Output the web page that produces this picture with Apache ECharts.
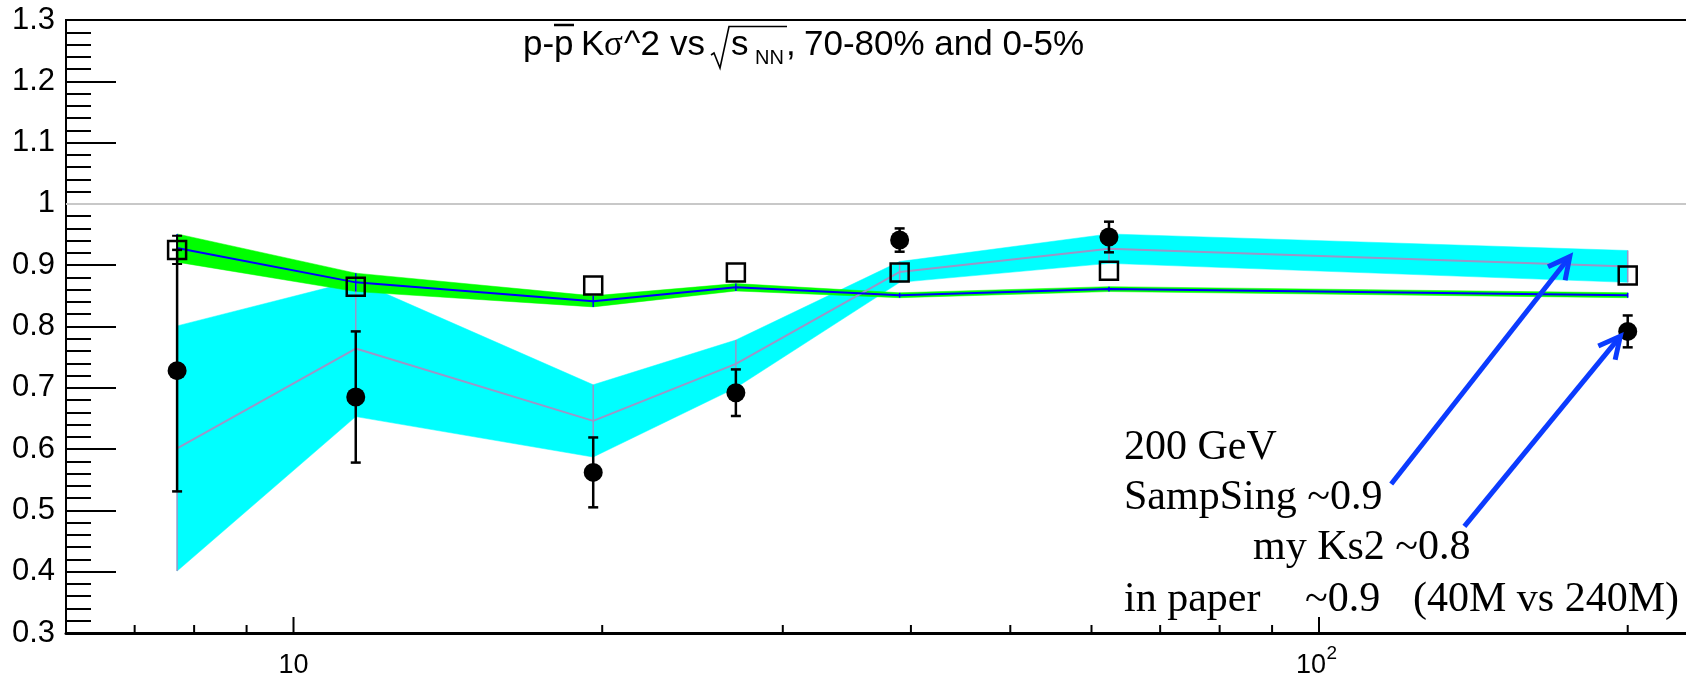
<!DOCTYPE html>
<html><head><meta charset="utf-8">
<script src="https://cdn.jsdelivr.net/npm/echarts@6/dist/echarts.min.js"></script>
<style>html,body{margin:0;padding:0;background:#fff}#c{width:1686px;height:683px}</style>
</head><body><div id="c"></div>
<script>
// ---- data ----
const energies = [7.7, 11.5, 19.6, 27, 39, 62.4, 200];
// black filled circles ("my Ks2")
const ks2Val = [0.728, 0.685, 0.562, 0.692, 0.941, 0.946, 0.792];
const ks2Err = [0.197, 0.107, 0.057, 0.038, 0.019, 0.025, 0.026];
// open squares ("SampSing")
const sampVal = [0.925, 0.865, 0.867, 0.888, 0.888, 0.891, 0.883];
const sampErr = [0.023, 0, 0, 0, 0, 0, 0];
// blue line with green band
const blueVal = [0.928, 0.872, 0.841, 0.864, 0.851, 0.861, 0.851];
const greenErr = [0.023, 0.015, 0.009, 0.006, 0.004, 0.004, 0.004];
// lavender line with cyan band
const cyanVal = [0.601, 0.764, 0.646, 0.739, 0.889, 0.927, 0.898];
const cyanErr = [0.200, 0.111, 0.059, 0.039, 0.017, 0.024, 0.026];
// x axis ticks and labels (log axis, ROOT style)
const xTickValues = [7, 8, 9, 10, 20, 30, 40, 50, 60, 70, 80, 90, 100, 200];
const xMajorTicks = [10, 100];
const xLabelValues = [10, 100];
const xLabelBase = ['10', '10'];
const xLabelSup = ['', '2'];
// annotation arrows [xFrom, yFrom, xTo, yTo] in data units
const arrows = [[117.6, 0.543, 175.6, 0.914], [138.6, 0.474, 196.7, 0.784]];
const noteTexts = ['200 GeV', 'SampSing ~0.9', 'my Ks2 ~0.8', 'in paper', '~0.9', '(40M vs 240M)'];
const titleParts = ['p-p', 'K', '\u03c3', '^2', 'vs', 's', 'NN', ',', '70-80% and 0-5%'];

const Y_MIN = 0.3, Y_MAX = 1.3;
const X_MIN = 6, X_MAX = 6 * Math.pow(10, 1640 / 1025.5);
const SANS = 'Liberation Sans', SERIF = 'Liberation Serif';

const chart = echarts.init(document.getElementById('c'), null, {renderer: 'canvas'});

function band(vals, errs, color, z) {
  return {
    type: 'custom', z: z, silent: true,
    data: energies.map((e, i) => [e, vals[i] - errs[i], vals[i] + errs[i]]),
    encode: {x: 0, y: [1, 2]},
    renderItem: function (params, api) {
      if (params.dataIndex !== 0) return null;
      const top = [], bot = [];
      energies.forEach((e, i) => {
        top.push(api.coord([e, vals[i] + errs[i]]));
        bot.push(api.coord([e, vals[i] - errs[i]]));
      });
      return {type: 'polygon', shape: {points: top.concat(bot.reverse())}, style: {fill: color, stroke: color, lineWidth: 0.5}};
    }
  };
}
function errBars(vals, errs, color, width, cap, z) {
  return {
    type: 'custom', z: z, silent: true,
    data: energies.map((e, i) => [e, vals[i] - errs[i], vals[i] + errs[i]]),
    encode: {x: 0, y: [1, 2]},
    renderItem: function (params, api) {
      if (api.value(2) - api.value(1) <= 0) return null;
      const a = api.coord([api.value(0), api.value(1)]);
      const b = api.coord([api.value(0), api.value(2)]);
      const st = {stroke: color, lineWidth: width};
      const ch = [{type: 'line', shape: {x1: a[0], y1: a[1], x2: b[0], y2: b[1]}, style: st}];
      if (cap > 0) {
        ch.push({type: 'line', shape: {x1: a[0] - cap, y1: a[1], x2: a[0] + cap, y2: a[1]}, style: st});
        ch.push({type: 'line', shape: {x1: b[0] - cap, y1: b[1], x2: b[0] + cap, y2: b[1]}, style: st});
      }
      return {type: 'group', children: ch};
    }
  };
}
function lineSeries(vals, color, width, z, extra) {
  return Object.assign({
    type: 'line', z: z, silent: true, symbol: 'none', showSymbol: false,
    data: energies.map((e, i) => [e, vals[i]]),
    lineStyle: {color: color, width: width}
  }, extra || {});
}

const LAV = '#9a96c8';
const series = [
  band(cyanVal, cyanErr, '#00ffff', 2),
  band(blueVal, greenErr, '#00ff00', 3),
  errBars(cyanVal, cyanErr, LAV, 1.5, 0, 4),
  lineSeries(cyanVal, LAV, 2, 4),
  errBars(blueVal, greenErr, '#0000ff', 1.5, 0, 5),
  lineSeries(blueVal, '#0000ff', 2, 5, {
    markLine: {
      silent: true, symbol: ['none', 'none'], label: {show: false},
      lineStyle: {color: '#c8c8c8', width: 2, type: 'solid'},
      data: [{yAxis: 1}]
    }
  }),
  errBars(sampVal, sampErr, '#000000', 2, 5, 6),
  {
    type: 'scatter', z: 7, silent: true, symbol: 'rect', symbolSize: 18,
    data: energies.map((e, i) => [e, sampVal[i]]),
    itemStyle: {color: 'rgba(0,0,0,0)', borderColor: '#000', borderWidth: 2.5, opacity: 1}
  },
  errBars(ks2Val, ks2Err, '#000000', 2.5, 5, 8),
  {
    type: 'scatter', z: 9, silent: true, symbol: 'circle', symbolSize: 19,
    data: energies.map((e, i) => [e, ks2Val[i]]),
    itemStyle: {color: '#000', opacity: 1}
  },
  // x axis ticks (decades long, others short)
  {
    type: 'custom', z: 10, silent: true, clip: false,
    data: xTickValues.map(v => [v, Y_MIN]),
    encode: {x: 0, y: 1},
    renderItem: function (params, api) {
      const v = api.value(0);
      const p = api.coord([v, Y_MIN]);
      const len = xMajorTicks.indexOf(v) >= 0 ? 16 : 8;
      return {type: 'line', shape: {x1: p[0], y1: p[1], x2: p[0], y2: p[1] - len}, style: {stroke: '#000', lineWidth: 2}};
    }
  },
  // x axis labels (10, 10^2) placed through the axis scale
  {
    type: 'custom', z: 10, silent: true, clip: false,
    data: xLabelValues.map(v => [v, Y_MIN]),
    encode: {x: 0, y: 1},
    renderItem: function (params, api) {
      const i = params.dataIndex;
      const p = api.coord([api.value(0), Y_MIN]);
      const base = xLabelBase[i], sup = xLabelSup[i];
      const ch = [];
      if (sup) {
        ch.push({type: 'text', style: {text: base, x: p[0] + 7, y: 675 - 0.3465 * 27 + (p[1] - 633), fill: '#000',
          font: '27px "' + SANS + '"', align: 'right', verticalAlign: 'middle', textAlign: 'right', textVerticalAlign: 'middle'}});
        ch.push({type: 'text', style: {text: sup, x: p[0] + 7.5, y: 660 - 0.3465 * 19 + (p[1] - 633), fill: '#000',
          font: '19px "' + SANS + '"', align: 'left', verticalAlign: 'middle', textAlign: 'left', textVerticalAlign: 'middle'}});
      } else {
        ch.push({type: 'text', style: {text: base, x: p[0], y: 675 - 0.3465 * 27 + (p[1] - 633), fill: '#000',
          font: '27px "' + SANS + '"', align: 'center', verticalAlign: 'middle', textAlign: 'center', textVerticalAlign: 'middle'}});
      }
      return {type: 'group', children: ch};
    }
  },
  // annotation arrows
  {
    type: 'custom', z: 11, silent: true,
    data: arrows,
    encode: {x: [0, 2], y: [1, 3]},
    renderItem: function (params, api) {
      const a = api.coord([api.value(0), api.value(1)]);
      const b = api.coord([api.value(2), api.value(3)]);
      const dx = b[0] - a[0], dy = b[1] - a[1];
      const L = Math.sqrt(dx * dx + dy * dy);
      const ux = -dx / L, uy = -dy / L;
      const ang = 27 * Math.PI / 180, hl = 24;
      const rot = (s) => [b[0] + hl * (ux * Math.cos(s) - uy * Math.sin(s)), b[1] + hl * (ux * Math.sin(s) + uy * Math.cos(s))];
      const l = rot(ang), r = rot(-ang);
      const st = {stroke: '#0b3bff', lineWidth: 5, fill: null, lineJoin: 'miter'};
      return {type: 'group', children: [
        {type: 'line', shape: {x1: a[0], y1: a[1], x2: b[0] + 2 * ux, y2: b[1] + 2 * uy}, style: st},
        {type: 'polyline', shape: {points: [l, b, r]}, style: st}
      ]};
    }
  }
];

function txt(t, x, baseline, size, family, extra) {
  const k = family.indexOf('Serif') >= 0 ? 0.3375 : 0.3465;
  return Object.assign({
    type: 'text', silent: true, z: 100,
    style: {text: t, x: x, y: baseline - k * size, fill: '#000',
      font: size + 'px "' + family + '"', align: 'left', verticalAlign: 'middle',
      textAlign: 'left', textVerticalAlign: 'middle'}
  }, extra || {});
}

const TB = 57.5, TF = 35;
const graphic = [
  txt(titleParts[0], 523, TB, TF, SANS),
  {type: 'line', silent: true, z: 100, shape: {x1: 554, y1: 25, x2: 574, y2: 25}, style: {stroke: '#000', lineWidth: 2.5}},
  txt(titleParts[1], 581, TB, TF, SANS),
  txt(titleParts[2], 604, TB, TF, SERIF),
  txt(titleParts[3], 624, TB, TF, SANS),
  txt(titleParts[4], 670, TB, TF, SANS),
  {type: 'polyline', silent: true, z: 100, shape: {points: [[711, 55], [714, 53], [720, 68], [729, 26.5], [787, 26.5]]}, style: {stroke: '#000', lineWidth: 1.6, fill: null}},
  txt(titleParts[5], 731, TB, TF, SANS),
  txt(titleParts[6], 755, 65.5, 20, SANS),
  txt(titleParts[7], 786, TB, TF, SANS),
  txt(titleParts[8], 804, TB, TF, SANS),
  txt(noteTexts[0], 1124, 461.7, 42, SERIF),
  txt(noteTexts[1], 1124, 511.7, 42, SERIF),
  txt(noteTexts[2], 1253, 561.7, 42, SERIF),
  txt(noteTexts[3], 1124, 614, 42, SERIF),
  txt(noteTexts[4], 1305, 614, 42, SERIF),
  txt(noteTexts[5], 1413, 614, 42, SERIF)
];

chart.setOption({
  animation: false,
  backgroundColor: '#ffffff',
  grid: {left: 66, top: 20, right: -20, bottom: 50, containLabel: false, outerBoundsMode: 'none',
    show: true, borderColor: '#000', borderWidth: 2, backgroundColor: 'transparent'},
  xAxis: {
    type: 'log', logBase: 10, min: X_MIN, max: X_MAX,
    splitLine: {show: false}, minorSplitLine: {show: false},
    axisTick: {show: false}, minorTick: {show: false},
    axisLine: {show: true, lineStyle: {color: '#000', width: 3}},
    axisLabel: {show: false}
  },
  yAxis: {
    type: 'value', min: Y_MIN, max: Y_MAX, interval: 0.1,
    splitLine: {show: false},
    axisLine: {show: true, lineStyle: {color: '#000', width: 2}},
    axisTick: {show: true, inside: true, length: 50, lineStyle: {color: '#000', width: 2}},
    minorTick: {show: true, splitNumber: 5, length: 25, lineStyle: {color: '#000', width: 2}},
    axisLabel: {
      color: '#000', fontFamily: SANS, fontSize: 31, margin: 11,
      formatter: v => String(+v.toFixed(1))
    }
  },
  series: series,
  graphic: graphic
});
</script></body></html>
